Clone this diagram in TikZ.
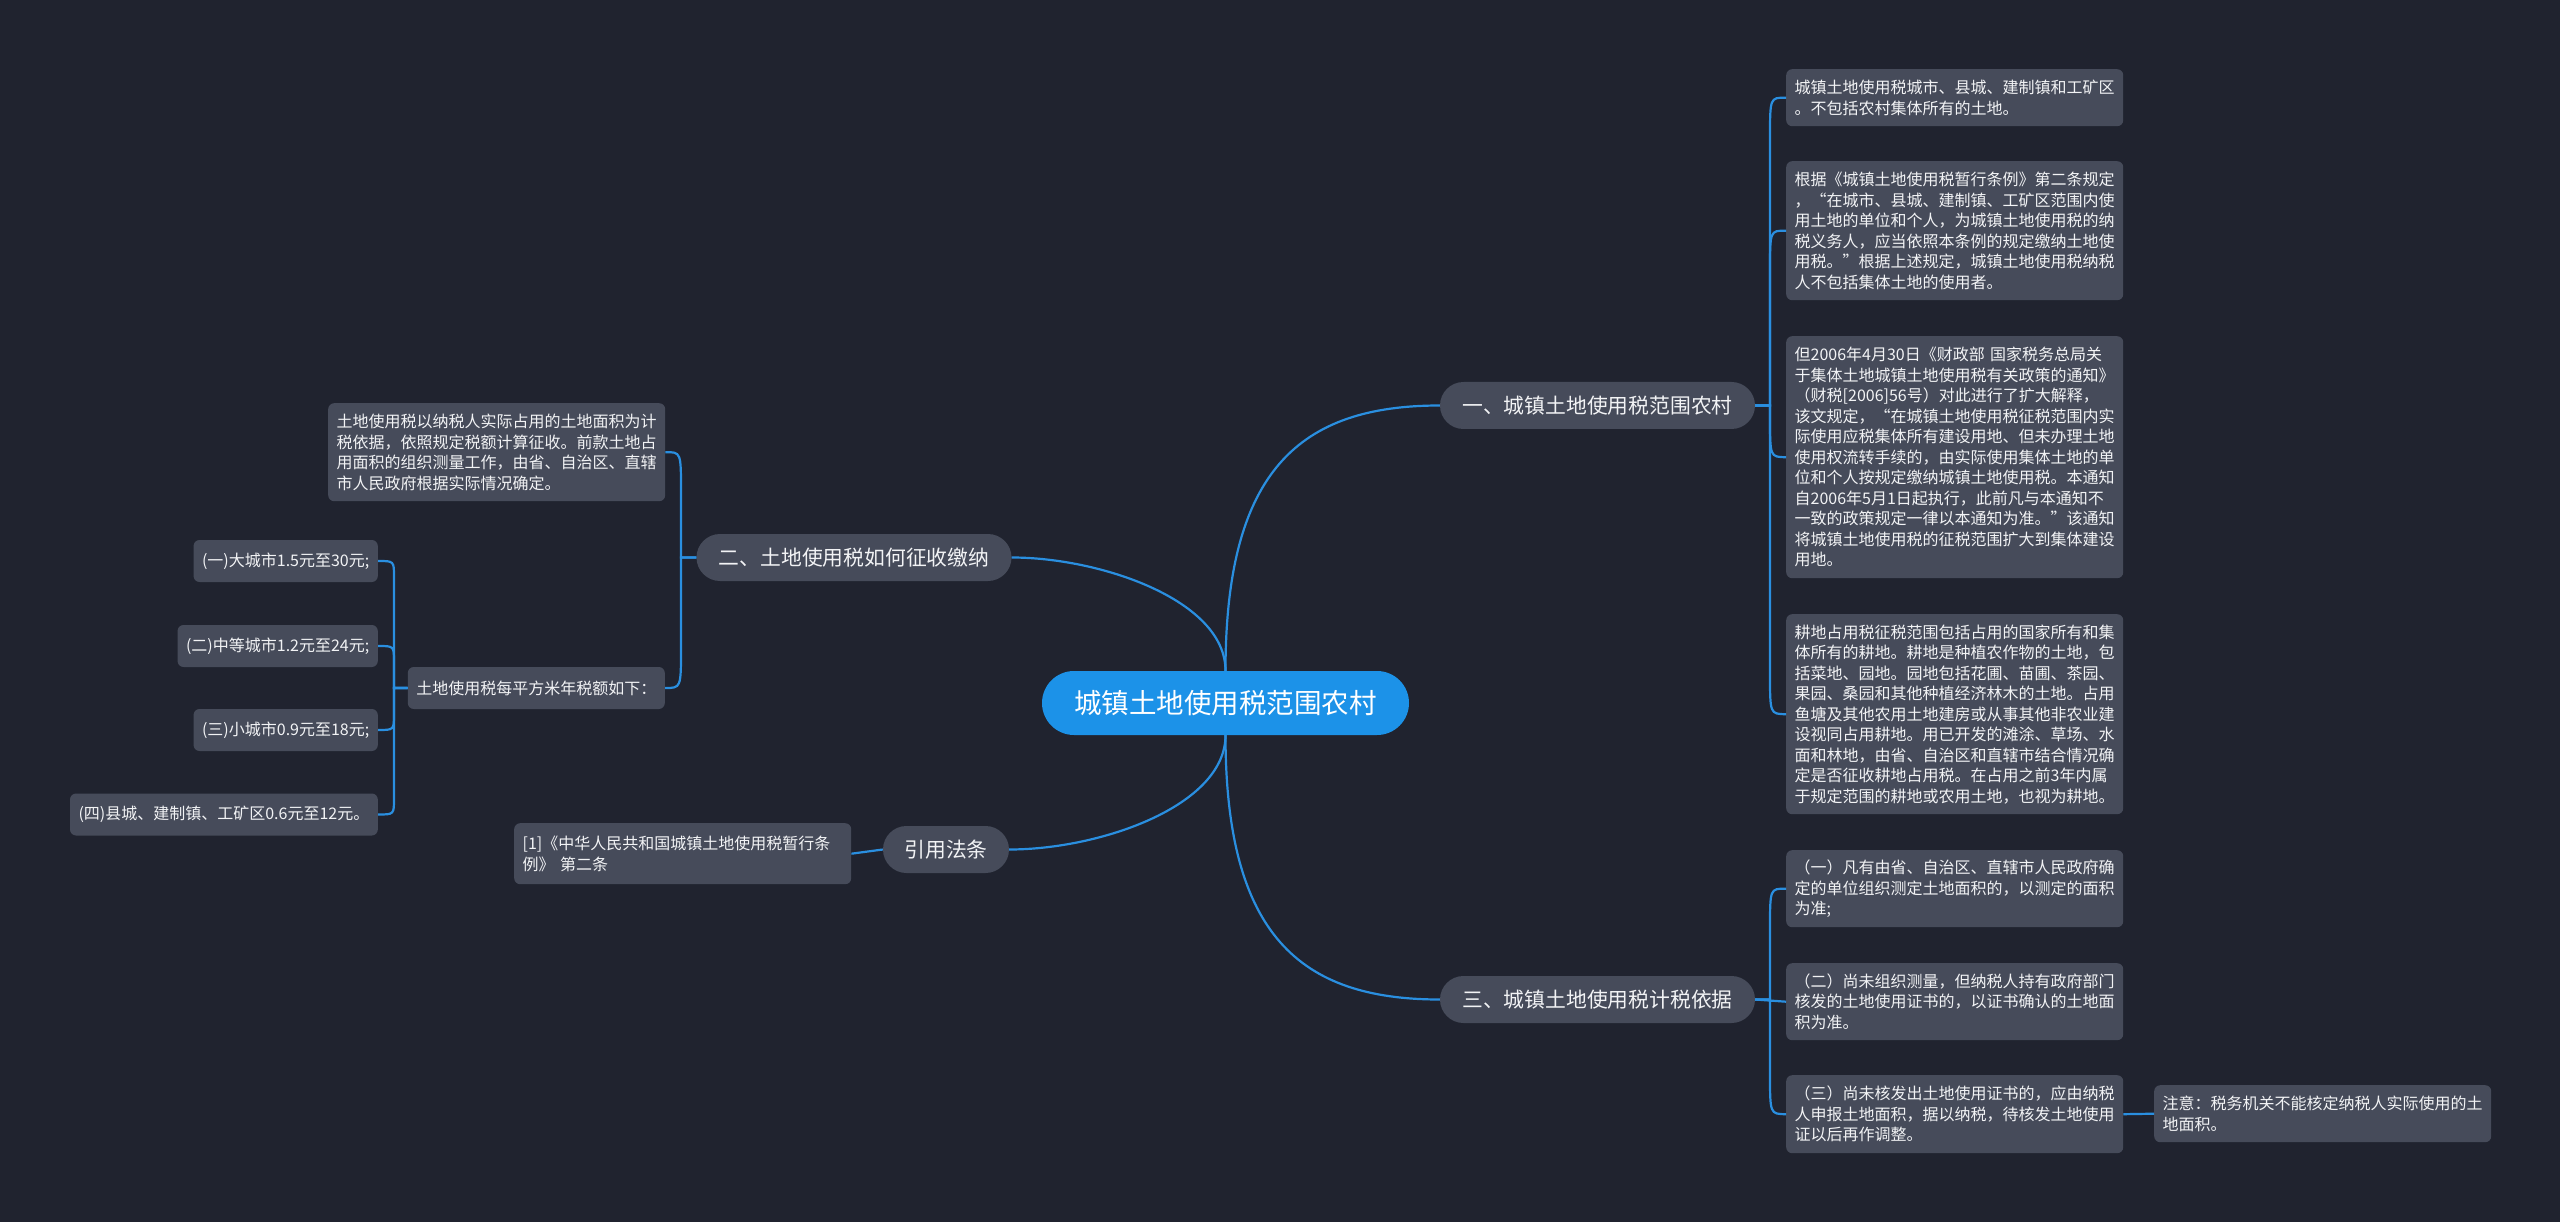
\documentclass[tikz,border=0pt]{standalone}
\usepackage{fontspec}
\setmainfont{Noto Sans CJK SC}
\definecolor{bgc}{HTML}{20232F}
\definecolor{nodec}{HTML}{464B5A}
\definecolor{centc}{HTML}{1C92E8}
\definecolor{linec}{HTML}{2A8FE0}
\definecolor{txtc}{HTML}{F2F3F5}
\tikzset{
  leaf/.style={fill=nodec, rounded corners=6, text=txtc,
    font=\fontsize{16}{20.5}\selectfont, align=left,
    inner xsep=8.5, inner ysep=6, anchor=north west},
  fixleaf/.style={leaf, text width=320, minimum width=337},
  branch/.style={fill=nodec, rounded corners=23.5, text=txtc,
    font=\fontsize{20.8}{25}\selectfont, minimum width=315, minimum height=47, inner sep=0},
  centre/.style={fill=centc, rounded corners=32, text=white,
    font=\fontsize{27.5}{33}\selectfont, minimum width=367, minimum height=64, inner sep=0},
  conn/.style={draw=linec, line width=2.2}
}
\begin{document}
\begin{tikzpicture}[x=1pt,y=-1pt]
\fill[bgc] (0,0) rectangle (2560,1222);
\useasboundingbox (0,0) rectangle (2560,1222);

% central and branches
\node[centre] (c) at (1225.5,703) {城镇土地使用税范围农村};
\node[branch] (b1) at (1597.5,405.5) {一、城镇土地使用税范围农村};
\node[branch] (b2) at (854,557.5) {二、土地使用税如何征收缴纳};
\node[branch, minimum width=126] (b3) at (946,849.5) {引用法条};
\node[branch] (b4) at (1597.5,999.5) {三、城镇土地使用税计税依据};

% right leaves, branch 1
\node[fixleaf, minimum height=57] (r1) at (1786,69) {城镇土地使用税城市、县城、建制镇和工矿区\\。不包括农村集体所有的土地。};
\node[fixleaf, minimum height=139] (r2) at (1786,161) {根据《城镇土地使用税暂行条例》第二条规定\\，“在城市、县城、建制镇、工矿区范围内使\\用土地的单位和个人，为城镇土地使用税的纳\\税义务人，应当依照本条例的规定缴纳土地使\\用税。”根据上述规定，城镇土地使用税纳税\\人不包括集体土地的使用者。};
\node[fixleaf, minimum height=242] (r3) at (1786,336) {但2006年4月30日《财政部 国家税务总局关\\于集体土地城镇土地使用税有关政策的通知》\\（财税[2006]56号）对此进行了扩大解释，\\该文规定，“在城镇土地使用税征税范围内实\\际使用应税集体所有建设用地、但未办理土地\\使用权流转手续的，由实际使用集体土地的单\\位和个人按规定缴纳城镇土地使用税。本通知\\自2006年5月1日起执行，此前凡与本通知不\\一致的政策规定一律以本通知为准。”该通知\\将城镇土地使用税的征税范围扩大到集体建设\\用地。};
\node[fixleaf, minimum height=200] (r4) at (1786,614) {耕地占用税征税范围包括占用的国家所有和集\\体所有的耕地。耕地是种植农作物的土地，包\\括菜地、园地。园地包括花圃、苗圃、茶园、\\果园、桑园和其他种植经济林木的土地。占用\\鱼塘及其他农用土地建房或从事其他非农业建\\设视同占用耕地。用已开发的滩涂、草场、水\\面和林地，由省、自治区和直辖市结合情况确\\定是否征收耕地占用税。在占用之前3年内属\\于规定范围的耕地或农用土地，也视为耕地。};

% right leaves, branch 4
\node[fixleaf, minimum height=77] (r5) at (1786,850) {（一）凡有由省、自治区、直辖市人民政府确\\定的单位组织测定土地面积的，以测定的面积\\为准;};
\node[fixleaf, minimum height=77] (r6) at (1786,963) {（二）尚未组织测量，但纳税人持有政府部门\\核发的土地使用证书的，以证书确认的土地面\\积为准。};
\node[fixleaf, minimum height=78] (r7) at (1786,1075) {（三）尚未核发出土地使用证书的，应由纳税\\人申报土地面积，据以纳税，待核发土地使用\\证以后再作调整。};
\node[fixleaf, minimum height=57] (r8) at (2154,1085) {注意：税务机关不能核定纳税人实际使用的土\\地面积。};

% left leaves
\node[fixleaf, minimum height=98] (l1) at (328,403) {土地使用税以纳税人实际占用的土地面积为计\\税依据，依照规定税额计算征收。前款土地占\\用面积的组织测量工作，由省、自治区、直辖\\市人民政府根据实际情况确定。};
\node[leaf, anchor=east, minimum height=42] (l2) at (665,688) {土地使用税每平方米年税额如下：};
\node[leaf, anchor=east, minimum height=42] (l2a) at (378,561) {(一)大城市1.5元至30元;};
\node[leaf, anchor=east, minimum height=42] (l2b) at (378,646) {(二)中等城市1.2元至24元;};
\node[leaf, anchor=east, minimum height=42] (l2c) at (378,730) {(三)小城市0.9元至18元;};
\node[leaf, anchor=east, minimum height=42] (l2d) at (378,814.5) {(四)县城、建制镇、工矿区0.6元至12元。};
\node[fixleaf, minimum height=61] (l3) at (514,823) {[1]《中华人民共和国城镇土地使用税暂行条\\例》 第二条};

% central connectors
\draw[conn] (c.north) .. controls (1225.5,470) and (1300,405.5) .. (b1.west);
\draw[conn] (c.north) .. controls (1225.5,600) and (1100,557.5) .. (b2.east);
\draw[conn] (c.south) .. controls (1225.5,806) and (1100,849.5) .. (b3.east);
\draw[conn] (c.south) .. controls (1225.5,935) and (1300,999.5) .. (b4.west);

% branch 1 braces
\draw[conn] (b1.east) -- (1770,405.5) -- (1770,137.5) .. controls (1770,97.5) .. (r1.west);
\draw[conn] (b1.east) -- (1770,405.5) -- (1770,270.5) .. controls (1770,230.5) .. (r2.west);
\draw[conn] (b1.east) -- (1770,405.5) -- (1770,417) .. controls (1770,457) .. (r3.west);
\draw[conn] (b1.east) -- (1770,405.5) -- (1770,674) .. controls (1770,714) .. (r4.west);

% branch 4 braces
\draw[conn] (b4.east) -- (1770,999.5) -- (1770,928.5) .. controls (1770,888.5) .. (r5.west);
\draw[conn] (b4.east) -- (r6.west);
\draw[conn] (b4.east) -- (1770,999.5) -- (1770,1074) .. controls (1770,1114) .. (r7.west);
\draw[conn] (r7.east) -- (r8.west);

% branch 2 braces
\draw[conn] (b2.west) -- (681,557.5) -- (681,492) .. controls (681,452) .. (l1.east);
\draw[conn] (b2.west) -- (681,557.5) -- (681,648) .. controls (681,688) .. (l2.east);

% l2 braces
\draw[conn] (l2.west) -- (394,688) -- (394,577) .. controls (394,561) .. (l2a.east);
\draw[conn] (l2.west) -- (394,688) -- (394,662) .. controls (394,646) .. (l2b.east);
\draw[conn] (l2.west) -- (394,688) -- (394,714) .. controls (394,730) .. (l2c.east);
\draw[conn] (l2.west) -- (394,688) -- (394,798.5) .. controls (394,814.5) .. (l2d.east);

% branch 3
\draw[conn] (b3.west) -- (l3.east);
\end{tikzpicture}
\end{document}
